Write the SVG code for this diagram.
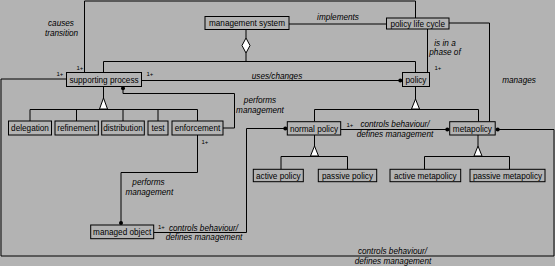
<svg xmlns="http://www.w3.org/2000/svg" width="555" height="266" viewBox="0 0 555 266">
<style>
.bg{fill:#b3b3b3}
.box{fill:#b3b3b3;stroke:#000;stroke-width:1}
.ln{fill:none;stroke:#000;stroke-width:1}
.tri{fill:#fff;stroke:#000;stroke-width:1}
.dia{fill:#fff;stroke:#000;stroke-width:1}
.dot{fill:#000}
text{font-family:"Liberation Sans",Arial,sans-serif;font-size:8.2px;fill:#000}
.nt{text-anchor:middle}
.lb{font-style:italic;text-anchor:middle}
.m{font-size:6px}
</style>
<rect class="bg" x="0" y="0" width="555" height="266"/>
<g id="connectors">
<path class="ln" d="M84.5,72.5 V1 H415.5 V18"/>
<path class="ln" d="M246,29.5 V38 M246,53 V61.5"/>
<polygon class="dia" points="246,38 250,45.5 246,53 242,45.5"/>
<path class="ln" d="M103.5,72.5 V61.5 H415.5 V72.5"/>
<path class="ln" d="M289,24 H386.5"/>
<path class="ln" d="M449,23 H489.5 V121.5"/>
<path class="ln" d="M427.5,29 V72.5"/>
<path class="ln" d="M141.5,80.5 H400"/>
<circle class="dot" cx="400.3" cy="80.5" r="2"/>
<path class="ln" d="M66.5,79 H1 V256 H554 V129.5 H497"/>
<circle class="dot" cx="497.7" cy="129.5" r="2"/>
<path class="ln" d="M103.5,86.5 V98"/>
<polygon class="tri" points="103.5,98 107.5,109 99.5,109"/>
<path class="ln" d="M30,121 V109.5 H197.5 V121 M76.5,109.5 V121 M123,109.5 V121 M158,109.5 V121"/>
<path class="ln" d="M123,88 V93.5 H234.5 V128 H223"/>
<circle class="dot" cx="123" cy="88.3" r="2"/>
<path class="ln" d="M197.5,135 V172.5 H121 V223"/>
<circle class="dot" cx="121" cy="223" r="2"/>
<path class="ln" d="M153.5,232.5 H246.5 V128.5 H285"/>
<circle class="dot" cx="285.3" cy="128.5" r="2"/>
<path class="ln" d="M340.5,129.5 H447"/>
<circle class="dot" cx="447.3" cy="129.5" r="2"/>
<path class="ln" d="M415.5,86.5 V99"/>
<polygon class="tri" points="415.5,99 419.5,109 411.5,109"/>
<path class="ln" d="M314.5,121.5 V109.5 H478.5 V121.5"/>
<path class="ln" d="M314.5,135 V146"/>
<polygon class="tri" points="314.5,146 318.5,156 310.5,156"/>
<path class="ln" d="M281,169.5 V156.5 H347.5 V169.5"/>
<path class="ln" d="M478,135 V146"/>
<polygon class="tri" points="478,146 482,156 474,156"/>
<path class="ln" d="M424.5,169.5 V156.5 H509.5 V169.5"/>
<text class="lb" x="61" y="26">causes</text>
<text class="lb" x="61.5" y="36">transition</text>
<text class="lb" x="338" y="20">implements</text>
<text class="lb" x="445" y="46">is in a</text>
<text class="lb" x="445" y="54.5">phase of</text>
<text class="m" x="434.5" y="70">1+</text>
<text class="lb" x="519" y="83">manages</text>
<text class="lb" x="277" y="78.5">uses/changes</text>
<text class="m" x="56.5" y="75.5">1+</text>
<text class="m" x="76.5" y="70">1+</text>
<text class="m" x="146.5" y="75.5">1+</text>
<text class="lb" x="260" y="102.5">performs</text>
<text class="lb" x="260" y="112.5">management</text>
<text class="m" x="201.5" y="144">1+</text>
<text class="lb" x="148.5" y="184.5">performs</text>
<text class="lb" x="149.3" y="194.5">management</text>
<text class="m" x="158" y="229">1+</text>
<text class="lb" x="203.5" y="231">controls behaviour/</text>
<text class="lb" x="204" y="240">defines management</text>
<text class="m" x="346.5" y="127">1+</text>
<text class="lb" x="395" y="127">controls behaviour/</text>
<text class="lb" x="395" y="137">defines management</text>
<text class="lb" x="392.5" y="253.5">controls behaviour/</text>
<text class="lb" x="393" y="263.5">defines management</text>
</g>
<g id="management-system"><rect class="box" x="205" y="16.5" width="84" height="13"/><text class="nt" x="247" y="26">management system</text></g>
<g id="policy-life-cycle"><rect class="box" x="386.5" y="18" width="62.5" height="11"/><text class="nt" x="417.7" y="26.5">policy life cycle</text></g>
<g id="supporting-process"><rect class="box" x="66.5" y="72.5" width="75" height="14"/><text class="nt" x="104" y="82.5">supporting process</text></g>
<g id="policy"><rect class="box" x="402.5" y="72.5" width="27" height="14"/><text class="nt" x="416" y="82.5">policy</text></g>
<g id="delegation"><rect class="box" x="8.5" y="121" width="43" height="14"/><text class="nt" x="30" y="131">delegation</text></g>
<g id="refinement"><rect class="box" x="55" y="121" width="43.3" height="14"/><text class="nt" x="76.6" y="131">refinement</text></g>
<g id="distribution"><rect class="box" x="101.7" y="121" width="42.6" height="14"/><text class="nt" x="123" y="131">distribution</text></g>
<g id="test"><rect class="box" x="148" y="121" width="20" height="14"/><text class="nt" x="158" y="131">test</text></g>
<g id="enforcement"><rect class="box" x="172" y="121" width="51" height="14"/><text class="nt" x="197.5" y="131">enforcement</text></g>
<g id="managed-object"><rect class="box" x="90.7" y="225" width="63" height="13.7"/><text class="nt" x="122.2" y="235">managed object</text></g>
<g id="normal-policy"><rect class="box" x="287.3" y="121.7" width="53.4" height="13.3"/><text class="nt" x="314" y="131.5">normal policy</text></g>
<g id="metapolicy"><rect class="box" x="449.7" y="121.7" width="45.5" height="13.3"/><text class="nt" x="472.4" y="131.5">metapolicy</text></g>
<g id="active-policy"><rect class="box" x="253.3" y="169.3" width="50" height="12.4"/><text class="nt" x="278.3" y="178.5">active policy</text></g>
<g id="passive-policy"><rect class="box" x="318.3" y="169.3" width="58.4" height="12.4"/><text class="nt" x="347.5" y="178.5">passive policy</text></g>
<g id="active-metapolicy"><rect class="box" x="390" y="169.3" width="70.7" height="12.4"/><text class="nt" x="425.3" y="178.5">active metapolicy</text></g>
<g id="passive-metapolicy"><rect class="box" x="470" y="169.3" width="75" height="12.4"/><text class="nt" x="507.5" y="178.5">passive metapolicy</text></g>
</svg>
